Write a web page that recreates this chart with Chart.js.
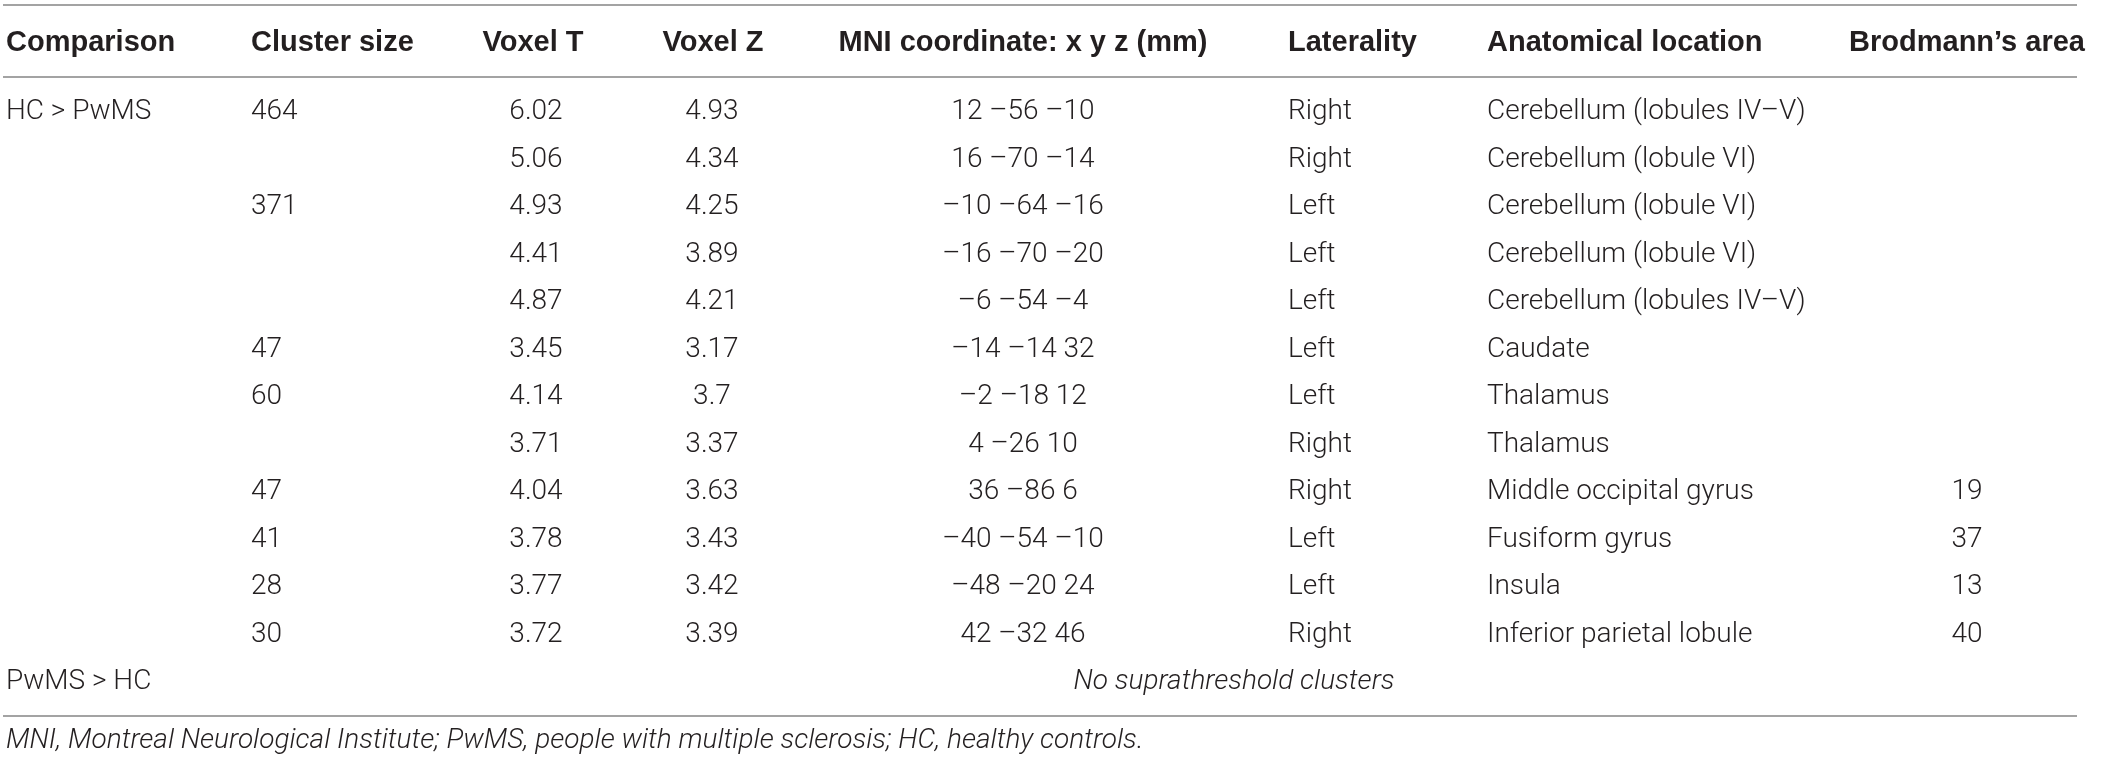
<!DOCTYPE html>
<html>
<head>
<meta charset="utf-8">
<script src="https://cdn.jsdelivr.net/npm/chart.js@4.4.0/dist/chart.umd.min.js"></script>
<style>
    html, body { margin: 0; padding: 0; background: #fff; }
    #wrap { width: 2117px; height: 764px; position: relative; }
</style>
</head>
<body>
<div id="wrap"><canvas id="tabla"></canvas></div>
<script>
// === Datos de la tabla ===
const headers = ['Comparison', 'Cluster size', 'Voxel T', 'Voxel Z', 'MNI coordinate: x y z (mm)',
    'Laterality', 'Anatomical location', 'Brodmann\u2019s area'];

const comparison = ['HC > PwMS', '', '', '', '', '', '', '', '', '', '', '', 'PwMS > HC'];
const clusterSize = ['464', '', '371', '', '', '47', '60', '', '47', '41', '28', '30', ''];
const voxelT = ['6.02', '5.06', '4.93', '4.41', '4.87', '3.45', '4.14', '3.71', '4.04', '3.78', '3.77', '3.72', ''];
const voxelZ = ['4.93', '4.34', '4.25', '3.89', '4.21', '3.17', '3.7', '3.37', '3.63', '3.43', '3.42', '3.39', ''];
const mniCoord = ['12 \u201356 \u201310', '16 \u201370 \u201314', '\u201310 \u201364 \u201316', '\u201316 \u201370 \u201320',
    '\u20136 \u201354 \u20134', '\u201314 \u201314 32', '\u20132 \u201318 12', '4 \u201326 10', '36 \u201386 6',
    '\u201340 \u201354 \u201310', '\u201348 \u201320 24', '42 \u201332 46', ''];
const laterality = ['Right', 'Right', 'Left', 'Left', 'Left', 'Left', 'Left', 'Right', 'Right', 'Left', 'Left', 'Right', ''];
const anatomicalLocation = ['Cerebellum (lobules IV\u2013V)', 'Cerebellum (lobule VI)', 'Cerebellum (lobule VI)',
    'Cerebellum (lobule VI)', 'Cerebellum (lobules IV\u2013V)', 'Caudate', 'Thalamus', 'Thalamus',
    'Middle occipital gyrus', 'Fusiform gyrus', 'Insula', 'Inferior parietal lobule', ''];
const brodmann = ['', '', '', '', '', '', '', '', '19', '37', '13', '40', ''];
const noteRow = ['', '', '', '', '', '', '', '', '', '', '', '', 'No suprathreshold clusters'];
const footnote = 'MNI, Montreal Neurological Institute; PwMS, people with multiple sclerosis; HC, healthy controls.';

// === Disposición (posición de columnas en px, filas en unidades de fila) ===
const columnas = [
    { datos: comparison, x: 6, align: 'left' },
    { datos: clusterSize, x: 251, align: 'left' },
    { datos: voxelT, x: 536, align: 'center' },
    { datos: voxelZ, x: 712, align: 'center' },
    { datos: mniCoord, x: 1023, align: 'center' },
    { datos: laterality, x: 1288, align: 'left' },
    { datos: anatomicalLocation, x: 1487, align: 'left' },
    { datos: brodmann, x: 1967, align: 'center' },
    { datos: noteRow, x: 1234, align: 'center', italic: true }
];
const headerX = [6, 251, 533, 713, 1023, 1288, 1487, 1967];
const headerAlign = ['left', 'left', 'center', 'center', 'center', 'left', 'left', 'center'];

const FILA_HEADER = -1.453;
const REGLAS = [-2.253, -0.737, 12.716];
const FILA_NOTA = 13.242;

const fuenteCuerpo = '300 28px Roboto, "Liberation Sans", sans-serif';
const fuenteCursiva = 'italic 300 28px Roboto, "Liberation Sans", sans-serif';
const fuenteHeader = 'bold 29px "Liberation Sans", Arial, sans-serif';

const datasets = columnas.map(function (col) {
    return {
        data: col.datos.map(function (v, i) { return { x: col.x, y: i, texto: v }; })
            .filter(function (p) { return p.texto !== ''; }),
        align: col.align,
        italic: !!col.italic,
        pointRadius: 0,
        pointHoverRadius: 0,
        showLine: false
    };
});

const textoTabla = {
    id: 'textoTabla',
    afterDatasetsDraw(chart) {
        const ctx = chart.ctx;
        const x = chart.scales.x;
        const y = chart.scales.y;
        ctx.save();

        // Reglas horizontales
        ctx.strokeStyle = '#a3a3a3';
        ctx.lineWidth = 2;
        REGLAS.forEach(function (r) {
            const py = Math.round(y.getPixelForValue(r));
            ctx.beginPath();
            ctx.moveTo(x.getPixelForValue(3), py);
            ctx.lineTo(x.getPixelForValue(2077), py);
            ctx.stroke();
        });

        ctx.textBaseline = 'middle';

        // Encabezados
        ctx.fillStyle = '#231f20';
        ctx.font = fuenteHeader;
        headers.forEach(function (h, i) {
            ctx.textAlign = headerAlign[i];
            ctx.fillText(h, x.getPixelForValue(headerX[i]), y.getPixelForValue(FILA_HEADER));
        });

        // Celdas
        ctx.fillStyle = '#231f20';
        chart.data.datasets.forEach(function (ds, di) {
            const meta = chart.getDatasetMeta(di);
            ctx.font = ds.italic ? fuenteCursiva : fuenteCuerpo;
            ctx.textAlign = ds.align;
            meta.data.forEach(function (pt, i) {
                ctx.fillText(ds.data[i].texto, pt.x, pt.y);
            });
        });

        // Nota al pie
        ctx.font = fuenteCursiva;
        ctx.textAlign = 'left';
        ctx.fillText(footnote, x.getPixelForValue(6), y.getPixelForValue(FILA_NOTA));
        ctx.restore();
    }
};

document.fonts.load(fuenteCuerpo).then(function () {
    return document.fonts.load(fuenteCursiva);
}).catch(function () {}).then(function () {
    try {
        new Chart(document.getElementById('tabla'), {
            type: 'scatter',
            data: { datasets: datasets },
            options: {
                responsive: true,
                maintainAspectRatio: false,
                animation: false,
                events: [],
                layout: { padding: 0 },
                plugins: { legend: { display: false }, tooltip: { enabled: false } },
                scales: {
                    x: { type: 'linear', min: 0, max: 2117, display: false },
                    y: { type: 'linear', min: -2.358, max: 13.726, reverse: true, display: false }
                }
            },
            plugins: [textoTabla]
        });
    } catch (error) {
        console.error('Error al crear la tabla:', error);
    }
});
</script>
</body>
</html>
